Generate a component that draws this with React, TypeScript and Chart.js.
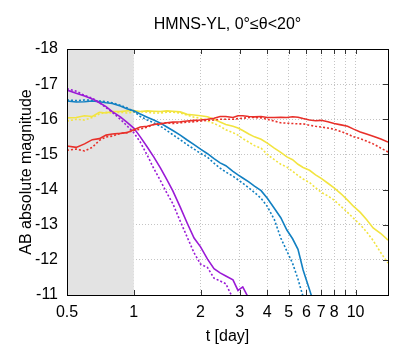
import React, { useEffect, useRef } from "react";
import { Chart, registerables } from "chart.js";
Chart.register(...registerables);

const days = [0.5, 0.55, 0.6, 0.65, 0.7, 0.75, 0.8, 0.87, 0.93, 1.0, 1.07, 1.15, 1.23, 1.32, 1.41, 1.5, 1.62, 1.74, 1.87, 2.0, 2.15, 2.3, 2.45, 2.6, 2.8, 2.95, 3.1, 3.3, 3.5, 3.75, 4.0, 4.3, 4.6, 4.9, 5.2, 5.5, 5.8, 6.2, 6.6, 7.0, 7.5, 8.0, 8.6, 9.2, 9.8, 10.5, 11.2, 12.0, 13.0, 14.0];

const purpleSolid = [-16.83, -16.74, -16.66, -16.58, -16.47, -16.36, -16.22, -16.07, -15.92, -15.75, -15.5, -15.21, -14.93, -14.61, -14.28, -13.96, -13.5, -13.05, -12.62, -12.37, -12.02, -11.75, -11.63, -11.54, -11.43, -11.13, -11.23, -10.9];
const purpleDotted = [-16.87, -16.8, -16.68, -16.6, -16.48, -16.33, -16.2, -16.0, -15.82, -15.62, -15.35, -14.98, -14.6, -14.25, -13.9, -13.6, -13.1, -12.65, -12.2, -11.88, -11.78, -11.48, -11.4, -11.32, -10.9];
const blueSolid = [-16.52, -16.49, -16.5, -16.52, -16.5, -16.47, -16.45, -16.38, -16.3, -16.24, -16.15, -16.06, -15.98, -15.89, -15.78, -15.68, -15.55, -15.41, -15.28, -15.15, -15.02, -14.88, -14.76, -14.68, -14.52, -14.42, -14.33, -14.22, -14.1, -13.97, -13.75, -13.47, -13.2, -12.85, -12.6, -12.3, -11.71, -11.15, -10.6];
const blueDotted = [-16.55, -16.53, -16.55, -16.54, -16.52, -16.5, -16.47, -16.4, -16.33, -16.22, -16.08, -15.98, -15.9, -15.8, -15.68, -15.56, -15.42, -15.28, -15.15, -15.03, -14.92, -14.75, -14.61, -14.5, -14.38, -14.28, -14.18, -14.05, -13.92, -13.75, -13.52, -13.15, -12.62, -12.25, -11.9, -11.45, -10.95];
const yellowSolid = [-16.04, -16.05, -16.1, -16.08, -16.2, -16.18, -16.22, -16.22, -16.24, -16.25, -16.22, -16.24, -16.23, -16.22, -16.24, -16.23, -16.21, -16.14, -16.12, -16.1, -16.07, -16.0, -15.92, -15.85, -15.8, -15.75, -15.68, -15.58, -15.5, -15.43, -15.32, -15.18, -15.06, -14.93, -14.85, -14.72, -14.63, -14.55, -14.42, -14.32, -14.18, -14.05, -13.88, -13.7, -13.52, -13.35, -13.15, -12.91, -12.75, -12.56];
const yellowDotted = [-15.95, -16.0, -15.98, -16.05, -16.15, -16.2, -16.18, -16.2, -16.18, -16.2, -16.22, -16.2, -16.18, -16.18, -16.2, -16.2, -16.18, -16.12, -16.06, -16.03, -15.95, -15.88, -15.8, -15.7, -15.62, -15.55, -15.45, -15.35, -15.25, -15.18, -15.0, -14.85, -14.72, -14.64, -14.52, -14.4, -14.3, -14.2, -14.05, -13.92, -13.82, -13.7, -13.52, -13.35, -13.18, -13.0, -12.8, -12.55, -12.2, -11.91];
const redSolid = [-15.24, -15.2, -15.3, -15.42, -15.45, -15.55, -15.58, -15.6, -15.62, -15.7, -15.78, -15.8, -15.85, -15.87, -15.9, -15.92, -15.93, -15.95, -15.97, -15.98, -16.0, -16.03, -16.08, -16.08, -16.05, -16.1, -16.1, -16.08, -16.07, -16.08, -16.05, -16.05, -16.06, -16.05, -16.07, -16.06, -16.02, -15.98, -15.96, -15.97, -15.93, -15.88, -15.84, -15.8, -15.72, -15.64, -15.58, -15.52, -15.44, -15.35];
const redDotted = [-15.12, -15.15, -15.1, -15.2, -15.4, -15.5, -15.52, -15.6, -15.62, -15.68, -15.72, -15.78, -15.85, -15.88, -15.9, -15.88, -15.9, -15.92, -15.93, -15.95, -15.97, -15.98, -16.0, -16.0, -16.0, -16.02, -16.03, -16.05, -16.05, -16.04, -16.0, -15.95, -15.9, -15.89, -15.88, -15.87, -15.87, -15.83, -15.8, -15.78, -15.75, -15.72, -15.65, -15.58, -15.5, -15.45, -15.38, -15.3, -15.18, -15.07];

const xTickValues = [0.5, 1, 2, 3, 4, 5, 6, 7, 8, 9, 10];
const xTickLabels = ["0.5", "1", "2", "3", "4", "5", "6", "7", "8", "", "10"];
const yTickValues = [-18, -17, -16, -15, -14, -13, -12, -11];
const shadeRange = [0.5, 1];
const titleText = "HMNS-YL, 0°≤θ<20°";

const FONT = '"Liberation Sans", Arial, sans-serif';

function pts(arr: number[]) {
  return arr.map((v, i) => ({ x: days[i], y: v }));
}

export default function App() {
  const ref = useRef<HTMLCanvasElement | null>(null);
  useEffect(() => {
    document.body.style.margin = "0";
    const canvas = ref.current!;
    const decor = {
      id: "decor",
      beforeDatasetsDraw(chart: any) {
        const { ctx, chartArea, scales } = chart;
        const x0 = scales.x.getPixelForValue(shadeRange[0]);
        const x1 = scales.x.getPixelForValue(shadeRange[1]);
        ctx.save();
        ctx.fillStyle = "#e3e3e3";
        ctx.fillRect(x0, chartArea.top, x1 - x0, chartArea.bottom - chartArea.top);
        ctx.restore();
      },
      afterDatasetsDraw(chart: any) {
        const { ctx, chartArea, scales } = chart;
        const { left, right, top, bottom } = chartArea;
        ctx.save();
        ctx.strokeStyle = "#333";
        ctx.lineWidth = 1;
        ctx.beginPath();
        for (const v of xTickValues) {
          const px = Math.round(scales.x.getPixelForValue(v)) + 0.5;
          if (v === 0.5) continue;
          ctx.moveTo(px, bottom);
          ctx.lineTo(px, bottom - 5);
          ctx.moveTo(px, top);
          ctx.lineTo(px, top + 5);
        }
        for (const v of yTickValues) {
          const py = Math.round(scales.y.getPixelForValue(v)) + 0.5;
          ctx.moveTo(right, py);
          ctx.lineTo(right - 5, py);
        }
        ctx.stroke();
        ctx.strokeStyle = "#000";
        ctx.strokeRect(Math.round(left) + 0.5, Math.round(top) + 0.5, Math.round(right - left), Math.round(bottom - top));
        ctx.fillStyle = "#000";
        ctx.font = "16px " + FONT;
        ctx.textAlign = "center";
        ctx.textBaseline = "middle";
        ctx.fillText(titleText, (left + right) / 2, 25);
        ctx.restore();
      },
    };
    const mk = (label: string, arr: number[], color: string, dotted: boolean) => ({
      label,
      data: pts(arr),
      borderColor: color,
      backgroundColor: color,
      borderWidth: 1.6,
      borderDash: dotted ? [2, 2] : [],
      pointRadius: 0,
      tension: 0,
      fill: false,
    });
    const chart = new Chart(canvas, {
      type: "line",
      data: {
        datasets: [
          mk("red solid", redSolid, "#e8302a", false),
          mk("red dotted", redDotted, "#e8302a", true),
          mk("purple solid", purpleSolid, "#9a1ad6", false),
          mk("purple dotted", purpleDotted, "#9a1ad6", true),
          mk("blue solid", blueSolid, "#1280c2", false),
          mk("blue dotted", blueDotted, "#1280c2", true),
          mk("yellow solid", yellowSolid, "#f2e440", false),
          mk("yellow dotted", yellowDotted, "#f2e440", true),
        ],
      },
      options: {
        responsive: false,
        animation: false,
        devicePixelRatio: 1,
        layout: { padding: { top: 49, right: 27, left: 0, bottom: 0 } },
        plugins: { legend: { display: false }, tooltip: { enabled: false }, title: { display: false } },
        scales: {
          x: {
            type: "logarithmic",
            min: 0.5,
            max: 14,
            afterBuildTicks: (s: any) => {
              s.ticks = xTickValues.map((v) => ({ value: v }));
            },
            afterFit: (s: any) => {
              s.height = 51;
            },
            ticks: {
              autoSkip: false,
              maxRotation: 0,
              minRotation: 0,
              padding: 8,
              color: "#000",
              font: { family: FONT, size: 16 },
              callback: (_v: any, i: number) => xTickLabels[i],
            },
            grid: { color: "#c4c4c4", lineWidth: 1, drawTicks: false },
            border: { display: false, dash: [1, 2] },
            title: { display: true, text: "t [day]", color: "#000", font: { family: FONT, size: 16 }, padding: { top: 0, bottom: 0 } },
          },
          y: {
            type: "linear",
            reverse: true,
            min: -18,
            max: -11,
            afterBuildTicks: (s: any) => {
              s.ticks = yTickValues.map((v) => ({ value: v }));
            },
            afterFit: (s: any) => {
              s.width = 67;
            },
            ticks: { padding: 9, color: "#000", font: { family: FONT, size: 16 } },
            grid: { color: "#c4c4c4", lineWidth: 1, drawTicks: false },
            border: { display: false, dash: [1, 2] },
            title: { display: true, text: "AB absolute magnitude", color: "#000", font: { family: FONT, size: 16 }, padding: { top: 17, bottom: 0 } },
          },
        },
      },
      plugins: [decor],
    } as any);
    return () => chart.destroy();
  }, []);
  return (
    <div style={{ width: 415, height: 346 }}>
      <canvas ref={ref} width={415} height={346} style={{ display: "block" }} />
    </div>
  );
}
